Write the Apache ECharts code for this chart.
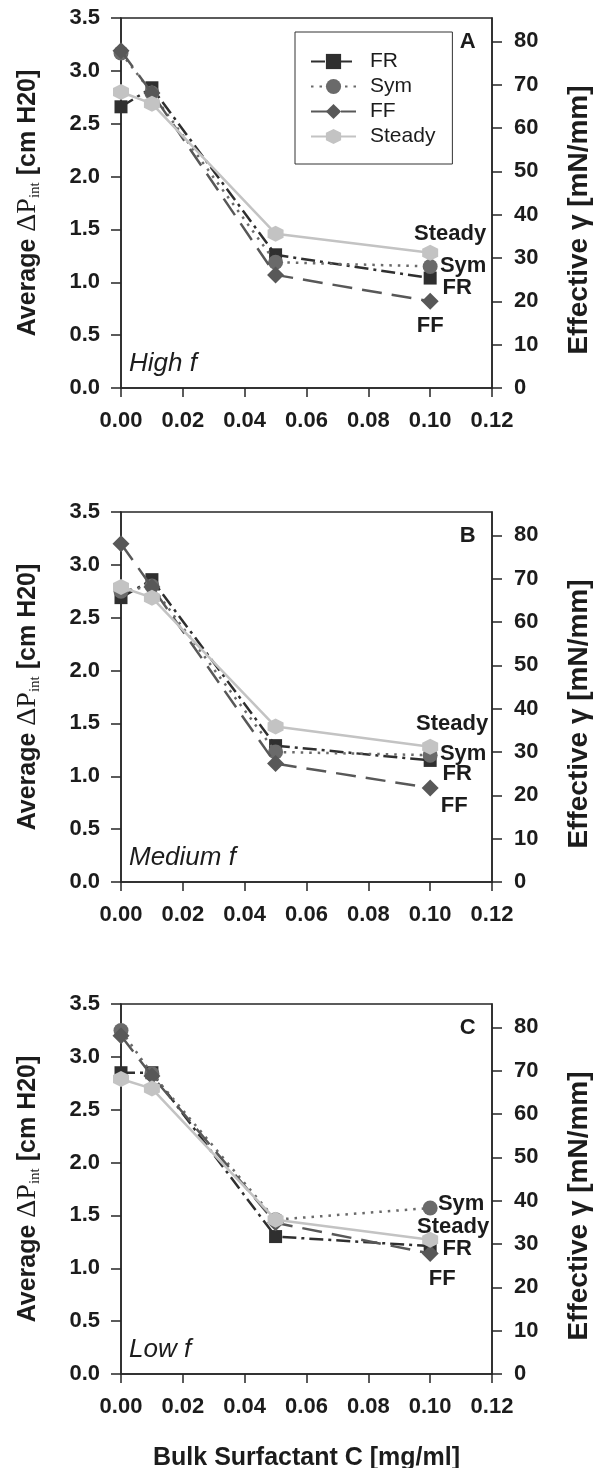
<!DOCTYPE html>
<html>
<head>
<meta charset="utf-8">
<script src="https://cdn.jsdelivr.net/npm/echarts@6/dist/echarts.min.js"></script>
<style>
  html, body { margin: 0; padding: 0; background: #fff; }
  #chart { width: 602px; height: 1468px; }
</style>
</head>
<body>
<div id="chart"></div>
<script>
// Bulk surfactant concentration [mg/ml]
const concentration = [0, 0.01, 0.05, 0.10];

// Average interfacial pressure drop [cm H2O], high frequency
const highFR     = [2.66, 2.84, 1.26, 1.04];
const highSym    = [3.17, 2.79, 1.19, 1.15];
const highFF     = [3.19, 2.79, 1.07, 0.82];
const highSteady = [2.80, 2.69, 1.46, 1.28];

// medium frequency
const medFR     = [2.69, 2.86, 1.29, 1.15];
const medSym    = [2.75, 2.80, 1.23, 1.20];
const medFF     = [3.20, 2.79, 1.12, 0.89];
const medSteady = [2.79, 2.69, 1.47, 1.28];

// low frequency
const lowFR     = [2.85, 2.85, 1.30, 1.21];
const lowSym    = [3.25, 2.84, 1.46, 1.57];
const lowFF     = [3.20, 2.82, 1.43, 1.14];
const lowSteady = [2.79, 2.70, 1.46, 1.27];

const seriesNames = ['FR', 'Sym', 'FF', 'Steady'];
const panelLetters = ['A', 'B', 'C'];
const panelFrequency = ['High f', 'Medium f', 'Low f'];
const panelData = [
  [highFR, highSym, highFF, highSteady],
  [medFR, medSym, medFF, medSteady],
  [lowFR, lowSym, lowFF, lowSteady]
];

// Axis ticks
const pressureMax = 3.5, pressureStep = 0.5;
const concMax = 0.12, concStep = 0.02;
const gammaTicks = [0, 10, 20, 30, 40, 50, 60, 70, 80];
const gammaPerPressure = 24.4; // right-hand scale: mN/mm per cm H2O

// ---- presentation ----
const SANS = '"Liberation Sans", Arial, Helvetica, sans-serif';
const SERIF = '"Liberation Serif", "Times New Roman", serif';
const INK = '#1c1c1c';
const AXIS = '#262626';

const HEX = 'path://M50,0 L93.3,25 L93.3,75 L50,100 L6.7,75 L6.7,25 Z';
const seriesStyle = {
  FR:     { color: '#2f2f2f', symbol: 'rect',    size: 13, line: { type: [14, 5, 3, 5], width: 2.5 } },
  Sym:    { color: '#6a6a6a', symbol: 'circle',  size: 15, line: { type: [2.5, 6],      width: 2.5 } },
  FF:     { color: '#585858', symbol: 'diamond', size: 17, line: { type: [20, 10],      width: 2.5 } },
  Steady: { color: '#c3c3c3', symbol: HEX,       size: 16, line: { type: 'solid',       width: 2.5 } }
};

// end-of-line name tags, offset from the last point [dx, dy]
const tagOffsets = [
  { FR: [27, 10], Sym: [33, 0],  FF: [0, 25],  Steady: [20, -19] },
  { FR: [27, 14], Sym: [33, -1], FF: [24, 18], Steady: [22, -23] },
  { FR: [27, 3],  Sym: [31, -4], FF: [12, 25], Steady: [23, -13] }
];

const gridTops = [18, 512, 1004];
const plotHeight = 370;
const gridLeft = 121, gridRight = 110;

const grids = [], xAxes = [], yAxes = [], series = [], graphics = [];

panelData.forEach((panel, p) => {
  grids.push({
    left: gridLeft, right: gridRight, top: gridTops[p], height: plotHeight,
    show: true, borderColor: AXIS, borderWidth: 1.5, backgroundColor: 'transparent',
    containLabel: false, outerBoundsMode: 'none'
  });

  xAxes.push({
    type: 'value', gridIndex: p, min: 0, max: concMax, interval: concStep,
    name: p === 2 ? 'Bulk Surfactant C [mg/ml]' : '',
    nameLocation: 'middle', nameGap: 72,
    nameTextStyle: { fontFamily: SANS, fontSize: 25, fontWeight: 'bold', color: INK },
    axisLine: { show: true, onZero: false, lineStyle: { color: AXIS, width: 1.5 } },
    axisTick: { show: true, inside: false, length: 9, lineStyle: { color: AXIS, width: 1.5 } },
    axisLabel: {
      margin: 22, fontFamily: SANS, fontSize: 22, fontWeight: 'bold', color: INK,
      formatter: v => v.toFixed(2)
    },
    splitLine: { show: false }
  });

  yAxes.push({
    type: 'value', gridIndex: p, position: 'left', min: 0, max: pressureMax, interval: pressureStep,
    name: '{t|Average }{d|ΔP}{s|int}{t| [cm H20]}',
    nameLocation: 'middle', nameRotate: 90, nameGap: 78,
    nameTextStyle: {
      color: INK,
      rich: {
        t: { fontFamily: SANS, fontSize: 25, fontWeight: 'bold', color: INK, lineHeight: 30, verticalAlign: 'middle' },
        d: { fontFamily: SERIF, fontSize: 28, color: INK, lineHeight: 30, verticalAlign: 'middle' },
        s: { fontFamily: SERIF, fontSize: 15, color: INK, lineHeight: 30, verticalAlign: 'bottom' }
      }
    },
    axisLine: { show: true, onZero: false, lineStyle: { color: AXIS, width: 1.5 } },
    axisTick: { show: true, inside: false, length: 10, lineStyle: { color: AXIS, width: 1.5 } },
    axisLabel: {
      margin: 21, fontFamily: SANS, fontSize: 22, fontWeight: 'bold', color: INK,
      formatter: v => v.toFixed(1)
    },
    splitLine: { show: false }
  });

  yAxes.push({
    type: 'value', gridIndex: p, position: 'right', min: 0, max: pressureMax * gammaPerPressure,
    name: 'Effective γ [mN/mm]',
    nameLocation: 'middle', nameRotate: 90, nameGap: 73,
    nameTextStyle: { fontFamily: SANS, fontSize: 28, fontWeight: 'bold', color: INK, padding: [0, 34, 0, 0] },
    axisLine: { show: true, onZero: false, lineStyle: { color: AXIS, width: 1.5 } },
    axisTick: { show: true, inside: false, length: 10, customValues: gammaTicks, lineStyle: { color: AXIS, width: 1.5 } },
    axisLabel: {
      margin: 22, fontFamily: SANS, fontSize: 22, fontWeight: 'bold', color: INK,
      customValues: gammaTicks
    },
    splitLine: { show: false }
  });

  panel.forEach((values, s) => {
    const name = seriesNames[s];
    const st = seriesStyle[name];
    const last = concentration.length - 1;
    series.push({
      name, type: 'line', xAxisIndex: p, yAxisIndex: p * 2,
      data: concentration.map((c, i) => [c, values[i]]),
      symbol: st.symbol, symbolSize: st.size, showAllSymbol: true,
      itemStyle: { color: st.color, borderWidth: 0 },
      lineStyle: { color: st.color, width: st.line.width, type: st.line.type },
      z: 2 + s,
      label: {
        show: true, position: 'inside', offset: tagOffsets[p][name],
        fontFamily: SANS, fontSize: 22, fontWeight: 'bold', color: INK,
        formatter: d => (d.dataIndex === last ? name : '')
      },
      emphasis: { disabled: true },
      animation: false
    });
  });

  graphics.push({
    type: 'text', x: 467.7, y: gridTops[p] + 24,
    style: { text: panelLetters[p], font: 'bold 22px ' + SANS, fill: INK, align: 'center', verticalAlign: 'middle' }
  });
  graphics.push({
    type: 'text', x: 129, y: gridTops[p] + plotHeight - 24,
    style: { text: panelFrequency[p], font: 'italic 26px ' + SANS, fill: INK, align: 'left', verticalAlign: 'middle' }
  });
});

const chart = echarts.init(document.getElementById('chart'), null, { renderer: 'canvas' });
chart.setOption({
  animation: false,
  backgroundColor: '#ffffff',
  grid: grids,
  xAxis: xAxes,
  yAxis: yAxes,
  legend: {
    data: seriesNames,
    orient: 'vertical', left: 295, top: 32,
    padding: [19, 17, 17, 15], itemGap: 4,
    itemWidth: 45, itemHeight: 19,
    borderColor: '#333', borderWidth: 1, backgroundColor: '#fff',
    textStyle: { fontFamily: SANS, fontSize: 21, color: INK, padding: [0, 0, 0, 9] },
    selectedMode: false
  },
  graphic: graphics,
  series
});
</script>
</body>
</html>
